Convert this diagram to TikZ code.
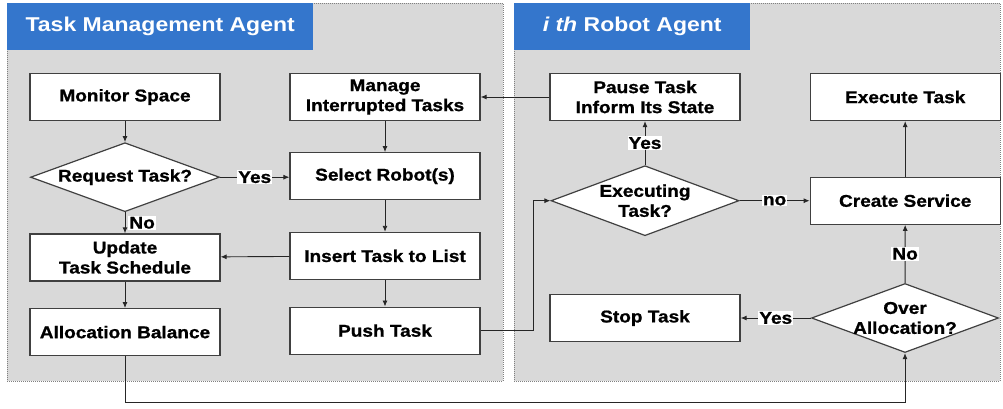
\documentclass[tikz,border=0pt]{standalone}
\usepackage{fontspec}
\setmainfont{Liberation Sans}[FakeStretch=1.12,BoldFeatures={FakeBold=1}]
\newfontfamily\headfont{Liberation Sans}[FakeStretch=1.15]
\usetikzlibrary{arrows.meta,positioning,shapes.geometric}
\definecolor{panel}{HTML}{D9D9D9}
\definecolor{head}{HTML}{3476CC}
\definecolor{edge}{HTML}{404040}

\begin{document}
\begin{tikzpicture}[x=1pt,y=-1pt, every node/.style={font=\fontsize{17}{20}\selectfont\bfseries,align=center}, b/.style={draw=edge,line width=1.2pt,fill=white,minimum width=190pt,minimum height=47pt,inner sep=0pt}, d/.style={diamond,draw=edge,line width=1.2pt,fill=white,minimum width=189pt,minimum height=69pt,inner sep=0pt}, a/.style={-{Latex[length=6pt,width=5pt]},line width=0.9pt,draw=black!85}, yn/.style={fill=white,inner sep=1pt}, pan/.style={fill=panel,draw=gray,densely dotted,line width=1pt}, hd/.style={anchor=north west,fill=head,text=white,minimum height=47pt,inner sep=0pt,font=\headfont\fontsize{20}{24}\selectfont\bfseries}]
\useasboundingbox (0,0) rectangle (1003,408);
\draw[pan] (7,3) rectangle (503,381);
\draw[pan] (514,3) rectangle (1000,381);
\node[hd,minimum width=306pt] (tmhead) at (7,3) {Task Management Agent};
\node[hd,minimum width=236pt] (rahead) at (514,3) {{\itshape i th} Robot Agent};
\node[b] (monitor) at (125,97) {Monitor Space};
\node[d,below=21pt of monitor,label={center:Request Task?}] (request) {};
\node[b,below=21pt of request] (update) {Update\\Task Schedule};
\node[b,below=26.5pt of update] (balance) {Allocation Balance};
\node[b] (manage) at (385,97) {Manage\\Interrupted Tasks};
\node[b,below=31pt of manage] (select) {Select Robot(s)};
\node[b,below=31.5pt of select] (insert) {Insert Task to List};
\node[b,below=26.5pt of insert] (push) {Push Task};
\node[b] (pause) at (645,97) {Pause Task\\Inform Its State};
\node[b,right=69pt of pause] (execute) {Execute Task};
\node[d,below=44pt of pause,minimum width=188pt,minimum height=70pt,label={center:{Executing\\Task?}}] (executing) {};
\node[b] (service) at (executing -| execute) {Create Service};
\node[d,minimum width=187pt,label={center:{Over\\Allocation?}}] (over) at (905,318) {};
\node[b] (stop) at (over -| pause) {Stop Task};
\draw[a] (monitor)--(request);\draw[a] (request.east)--node[yn]{Yes}(request.east -| select.west);
\draw[a] (request)--node[yn,anchor=west,xshift=3pt]{No}(update);\draw[a] (update)--(balance);
\draw[a] (manage)--(select);\draw[a] (select)--(insert);\draw[a] (insert)--(push);
\draw[a] (insert)--(update);\draw[a] (pause)--(manage);
\draw[a] (push.east)--++(53,0)|-(executing.west);
\draw[a] (executing)--node[yn]{Yes}(pause);\draw[a] (executing)--node[yn]{no}(service);
\draw[a] (service)--(execute);\draw[a] (over)--node[yn]{No}(service);
\draw[a] (over)--node[yn]{Yes}(stop);
\draw[a] (balance.south)--++(0,46)-|(over.south);
\end{tikzpicture}
\end{document}
